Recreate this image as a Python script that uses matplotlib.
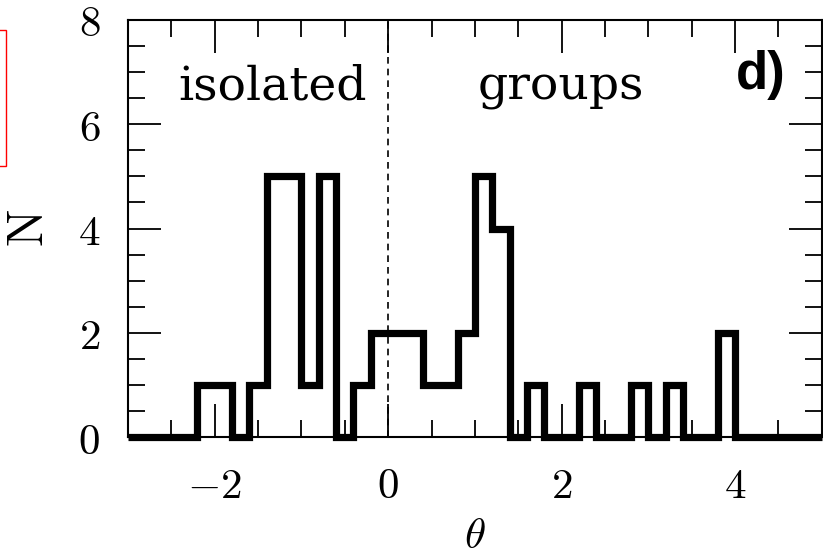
import numpy as np
import matplotlib
matplotlib.use('Agg')
import matplotlib.pyplot as plt
from matplotlib.ticker import MultipleLocator, FuncFormatter
from matplotlib.patches import Rectangle

plt.rcParams['mathtext.fontset'] = 'cm'

# histogram of theta, bin width 0.2 from -3 to 5
edges = np.linspace(-3, 5, 41)
counts = [0, 0, 0, 0, 1, 1, 0, 1, 5, 5,
          1, 5, 0, 1, 2, 2, 2, 1, 1, 2,
          5, 4, 0, 1, 0, 0, 1, 0, 0, 1,
          0, 1, 0, 0, 2, 0, 0, 0, 0, 0]

fig = plt.figure(figsize=(8.23, 5.6), dpi=100)
ax = fig.add_axes([0.1555, 0.2196, 0.843, 0.7447])

ax.stairs(counts, edges, color='k', lw=5.2, clip_on=False, joinstyle='miter')
ax.axvline(0, color='k', lw=1.2, ls=(0, (4, 3)))

ax.set_xlim(-3, 5)
ax.set_ylim(0, 8)
ax.xaxis.set_major_locator(MultipleLocator(2))
ax.xaxis.set_minor_locator(MultipleLocator(0.5))
ax.yaxis.set_major_locator(MultipleLocator(2))
ax.yaxis.set_minor_locator(MultipleLocator(0.5))
fmt = FuncFormatter(lambda v, p: '${:g}$'.format(v))
ax.xaxis.set_major_formatter(fmt)
ax.yaxis.set_major_formatter(fmt)
ax.tick_params(which='both', direction='in', top=True, right=True, width=1.3, labelsize=31)
ax.tick_params(which='major', length=24, pad=20)
ax.tick_params(which='minor', length=12)
for s in ax.spines.values():
    s.set_linewidth(1.5)

ax.set_xlabel(r'$\theta$', fontsize=31, labelpad=6)
ax.set_ylabel(r'$\mathrm{N}$', fontsize=36, labelpad=18)

ax.text(-1.33, 6.47, 'isolated', fontsize=34, family='DejaVu Serif', ha='center', va='baseline')
ax.text(1.99, 6.47, 'groups', fontsize=34, family='DejaVu Serif', ha='center', va='baseline')
ax.text(4.3, 6.95, 'd)', fontsize=38, fontweight='bold', family='Liberation Sans', ha='center', va='center')

# red frame fragment at left edge
fig.add_artist(Rectangle((-0.01, 1 - 166 / 560), 0.0175, 136 / 560, transform=fig.transFigure,
                         fill=False, edgecolor='red', lw=1))

fig.savefig('out.png', dpi=100)
